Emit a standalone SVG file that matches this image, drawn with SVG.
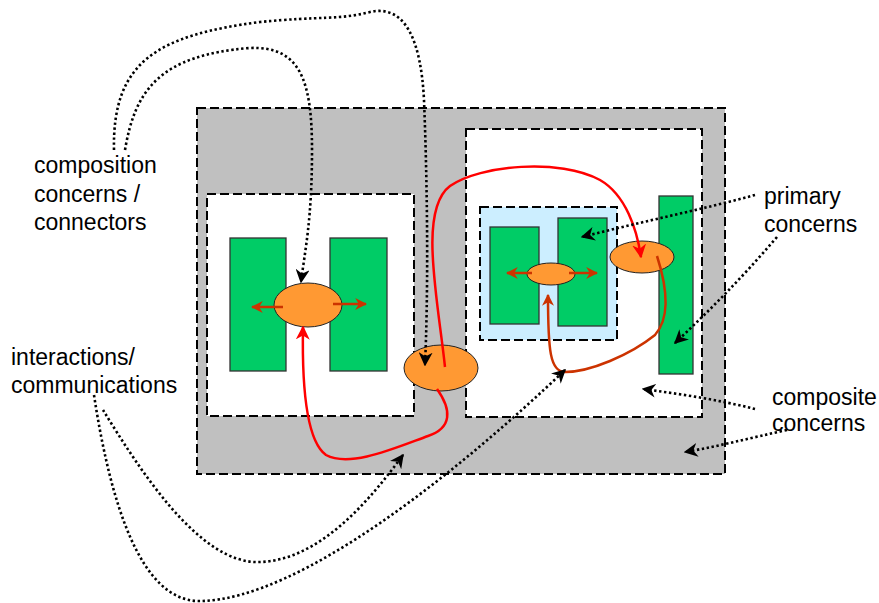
<svg xmlns="http://www.w3.org/2000/svg" width="879" height="603" viewBox="0 0 879 603">
<style>
.dash{stroke:#000;stroke-width:2;stroke-dasharray:9,4}
.grn{fill:#00cc66;stroke:#333;stroke-width:1.3}
.org{fill:#ff9933;stroke:#222;stroke-width:1}
.red{fill:none;stroke:#ff0000;stroke-width:2.5}
.brn{fill:none;stroke:#cc3300;stroke-width:2.5}
.dot{fill:none;stroke:#000;stroke-width:2.6;stroke-dasharray:2.4,2.6}
.lbl{font-family:"Liberation Sans",Arial,sans-serif;font-size:23px;fill:#000}
</style>
<defs>
<marker id="ab" viewBox="0 0 10 10" refX="9" refY="5" markerWidth="14" markerHeight="14" markerUnits="userSpaceOnUse" orient="auto"><path d="M0,0 L10,5 L0,10 L3,5 z" fill="#000"/></marker>
<marker id="ar" viewBox="0 0 10 10" refX="9" refY="5" markerWidth="14" markerHeight="14" markerUnits="userSpaceOnUse" orient="auto"><path d="M0,0 L10,5 L0,10 L3,5 z" fill="#ff0000"/></marker>
<marker id="ao" viewBox="0 0 10 10" refX="9" refY="5" markerWidth="12" markerHeight="12" markerUnits="userSpaceOnUse" orient="auto"><path d="M0,0 L10,5 L0,10 L3,5 z" fill="#cc3300"/></marker>
</defs>
<g id="outer"><rect x="197" y="108" width="528" height="366" fill="#c0c0c0" class="dash"/></g>
<g id="left-composite"><rect x="207" y="194" width="207" height="222" fill="#fff" class="dash"/></g>
<g id="right-composite"><rect x="466" y="129" width="236" height="288" fill="#fff" class="dash"/></g>
<g id="inner-composite"><rect x="480" y="207" width="137" height="133" fill="#cceeff" class="dash"/></g>
<g id="p1"><rect x="230" y="238" width="56" height="133" class="grn"/></g>
<g id="p2"><rect x="330" y="238" width="57" height="133" class="grn"/></g>
<g id="p3"><rect x="490" y="227" width="49" height="97" class="grn"/></g>
<g id="p4"><rect x="558" y="218" width="49" height="108" class="grn"/></g>
<g id="p5"><rect x="659" y="196" width="34" height="178" class="grn"/></g>
<g id="c1"><ellipse cx="308" cy="305" rx="34" ry="22" class="org"/></g>
<g id="c2"><ellipse cx="441" cy="368" rx="37" ry="23" class="org"/></g>
<g id="c3"><ellipse cx="551" cy="274" rx="24" ry="11" class="org"/></g>
<g id="c4"><ellipse cx="642" cy="257" rx="32" ry="16" class="org"/></g>
<g id="connectors">
<path class="brn" d="M283,307 L252,307" marker-end="url(#ao)"/>
<path class="brn" d="M333,304 L366,304" marker-end="url(#ao)"/>
<path class="brn" d="M532,273 L507,273" marker-end="url(#ao)"/>
<path class="brn" d="M569,273 L597,273" marker-end="url(#ao)"/>
<path class="red" d="M445,367 C438,300 418,210 450,186 C480,165 560,158 600,180 C626,195 637,230 641,257" marker-end="url(#ar)"/>
<path class="red" d="M437,389 C452,410 452,428 428,436 C395,448 350,468 326,455 C305,440 302,380 303,327" marker-end="url(#ar)"/>
<path class="brn" d="M657,256 C668,290 670,318 655,335 C630,355 590,372 565,372 C550,372 548,350 548,295" marker-end="url(#ao)"/>
<path class="dot" d="M114,150 C112,60 160,35 260,22 C320,16 340,20 370,12 C405,4 421,40 424,100 C428,200 428,300 425,365" marker-end="url(#ab)"/>
<path class="dot" d="M125,150 C135,90 160,55 250,48 C300,46 312,80 312,150 C312,220 305,250 301,282" marker-end="url(#ab)"/>
<path class="dot" d="M103,410 C140,470 200,565 260,562 C320,560 370,500 403,455" marker-end="url(#ab)"/>
<path class="dot" d="M94,395 C110,500 140,602 200,601 C300,600 460,470 565,370" marker-end="url(#ab)"/>
<path class="dot" d="M755,195 C700,210 640,222 582,237" marker-end="url(#ab)"/>
<path class="dot" d="M777,237 C740,280 710,310 675,343" marker-end="url(#ab)"/>
<path class="dot" d="M755,409 C720,400 680,394 643,389" marker-end="url(#ab)"/>
<path class="dot" d="M787,430 C750,438 720,446 685,452" marker-end="url(#ab)"/>
</g>
<g id="labels">
<text class="lbl" x="34" y="173">composition</text>
<text class="lbl" x="34" y="202">concerns /</text>
<text class="lbl" x="34" y="230">connectors</text>
<text class="lbl" x="11" y="365">interactions/</text>
<text class="lbl" x="11" y="393">communications</text>
<text class="lbl" x="764" y="204">primary</text>
<text class="lbl" x="764" y="232">concerns</text>
<text class="lbl" x="772" y="405">composite</text>
<text class="lbl" x="772" y="431">concerns</text>
</g>
</svg>
